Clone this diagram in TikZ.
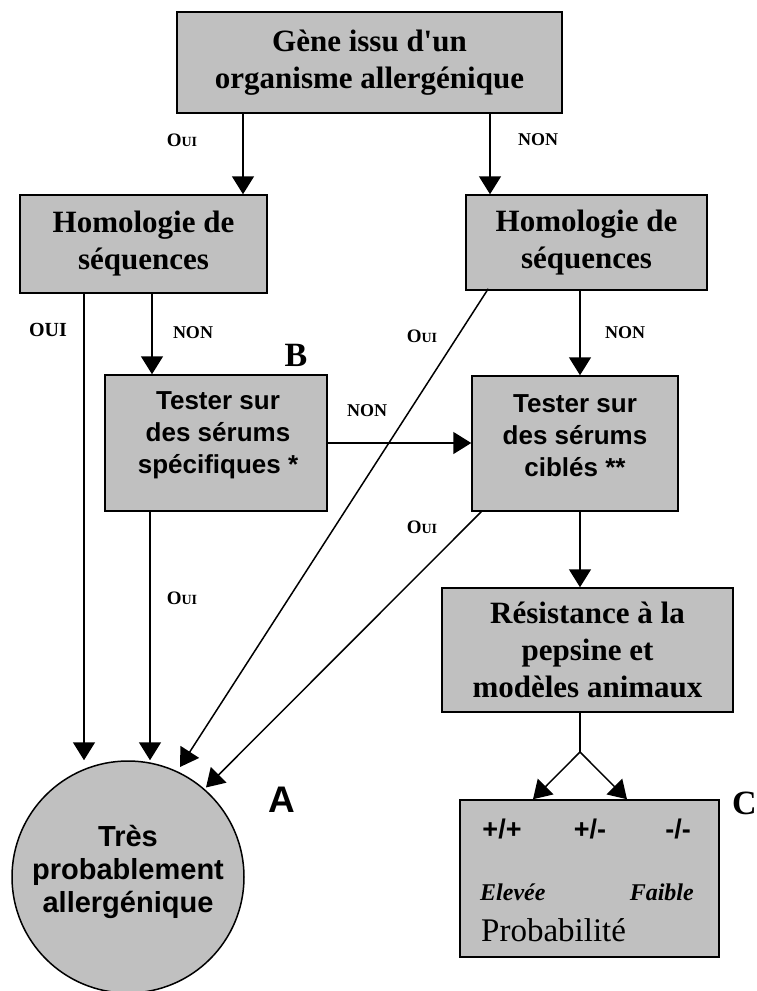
\documentclass[tikz,border=0pt]{standalone}
\usepackage{fontspec}
\setmainfont{Liberation Serif}
\newfontfamily\arial{Liberation Sans}
\usetikzlibrary{arrows.meta,calc}
\definecolor{boxgray}{RGB}{192,192,192}
\tikzset{
  box/.style={draw=black, line width=1.5pt, fill=boxgray, inner sep=0pt, align=center, anchor=center},
  serifbox/.style={box, font=\fontsize{31}{37}\selectfont\bfseries},
  sanstext/.style={inner sep=0pt, align=center, font=\arial\fontsize{26}{32}\selectfont\bfseries},
  arr/.style={line width=1.5pt, -{Triangle[length=18pt,width=22pt]}},
  conn/.style={line width=1.5pt},
  lab/.style={font=\fontsize{18}{18}\selectfont\bfseries, inner sep=0pt},
  letter/.style={inner sep=0pt, font=\fontsize{34}{34}\selectfont\bfseries},
  ptext/.style={inner sep=0pt},
  sign/.style={ptext, font=\arial\fontsize{27}{27}\selectfont\bfseries}
}
\newcommand{\ouisc}{{\fontsize{19}{19}\selectfont O}{\fontsize{14}{14}\selectfont UI}}
\begin{document}
\begin{tikzpicture}[x=1pt,y=-1pt]
\useasboundingbox (0,0) rectangle (756,991);
\clip (0,0) rectangle (756,991);
% boxes
\node[serifbox, minimum width=385pt, minimum height=101pt] (top) at (369.5,62.5) {Gène issu d\textquotesingle un\\organisme allergénique};
\node[serifbox, minimum width=247pt, minimum height=98pt] (hl) at (143.5,244) {Homologie de\\séquences};
\node[serifbox, minimum width=241pt, minimum height=95pt] (hr) at (586.5,242.5) {Homologie de\\séquences};
\node[box, minimum width=222pt, minimum height=136pt] (tb) at (216,443) {};
\node[sanstext] (tbt) at (218,435.5) {Tester sur\\des sérums\\spécifiques *};
\node[box, minimum width=206pt, minimum height=135pt] (tc) at (575,443.5) {};
\node[sanstext] (tct) at (575,435.5) {Tester sur\\des sérums\\ciblés **};
\node[serifbox, minimum width=291pt, minimum height=124pt] (res) at (587.5,650) {Résistance à la\\pepsine et\\modèles animaux};
\node[box, minimum width=259pt, minimum height=157pt] (prob) at (589.5,878.5) {};
\node[box, circle, minimum size=232pt] (circ) at (128,877) {};
\node[sanstext, font=\arial\fontsize{29}{33}\selectfont\bfseries] (circt) at (128,872) {Très\\probablement\\allergénique};
% contents of C box
\node[sign] (pp) at (502,829) {+/+};
\node[sign] (pm) at (590,829) {+/-};
\node[sign] (mm) at (678,829) {-/-};
\node[ptext, anchor=west, font=\fontsize{24}{24}\selectfont\bfseries\itshape] (elev) at (480,892) {Elevée};
\node[ptext, anchor=east, font=\fontsize{24}{24}\selectfont\bfseries\itshape] (faib) at (694,892) {Faible};
\node[ptext, anchor=west, font=\fontsize{33}{33}\selectfont] (proba) at (481,930) {Probabilité};
% letters
\node[letter] (B) at (296,355) {B};
\node[letter, font=\arial\fontsize{37}{37}\selectfont\bfseries] (A) at (282,800) {A};
\node[letter, anchor=west] (C) at (732,803) {C};
% x positions
\coordinate (x1) at (243,0);
\coordinate (x2) at (490,0);
\coordinate (x3) at (84,0);
\coordinate (x4) at (152,0);
\coordinate (x5) at (150,0);
\coordinate (x6) at (580,0);
\coordinate (x7) at (533,0);
\coordinate (x8) at (627,0);
\coordinate (fork) at (580,752);
% connectors
\draw[arr] (x1 |- top.south) -- (x1 |- hl.north);
\draw[arr] (x2 |- top.south) -- (x2 |- hr.north);
\draw[arr] (x3 |- hl.south) -- (x3 |- circ.north);
\draw[arr] (x4 |- hl.south) -- (x4 |- tb.north);
\draw[arr] (x6 |- hr.south) -- (x6 |- tc.north);
\draw[arr] (tb.east) -- (tb.east -| tc.west);
\draw[arr] (x5 |- tb.south) -- (x5 |- circ.north);
\draw[arr, shorten >=5pt] ($(hr.south west)+(23,-2)$) -- (circ.65);
\draw[arr, shorten >=2pt] ($(tc.south west)+(10,0)$) -- (circ.49);
\draw[arr] (x6 |- tc.south) -- (x6 |- res.north);
\draw[conn] (x6 |- res.south) -- (fork);
\draw[arr] (fork) -- (x7 |- prob.north);
\draw[arr] (fork) -- (x8 |- prob.north);
% labels
\node[lab] (l1) at (182,140) {\ouisc};
\node[lab] (l2) at (538,140) {NON};
\node[lab, font=\fontsize{20}{20}\selectfont\bfseries] (l3) at (48,330) {OUI};
\node[lab] (l4) at (193,333) {NON};
\node[lab] (l5) at (422,336) {\ouisc};
\node[lab] (l6) at (625,333) {NON};
\node[lab] (l7) at (367,411) {NON};
\node[lab] (l8) at (422,527) {\ouisc};
\node[lab] (l9) at (182,598) {\ouisc};
\end{tikzpicture}
\end{document}
